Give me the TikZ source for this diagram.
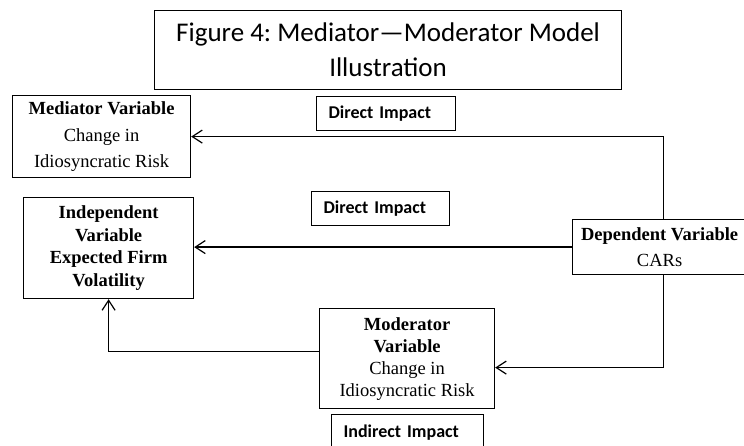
\documentclass[tikz,border=0pt]{standalone}
\usepackage{fontspec}
\setmainfont{Liberation Serif}
\newfontfamily\calfont{Carlito}
\usetikzlibrary{arrows.meta}
\frenchspacing
\begin{document}
\begin{tikzpicture}[x=1pt,y=-1pt,
 box/.style={draw, line width=1.2pt, inner sep=0pt, anchor=north west, align=center, font=\fontsize{18.5}{26.5}\selectfont},
 lab/.style={draw, line width=1.2pt, inner xsep=12pt, inner ysep=0pt, anchor=north west, align=left, font=\calfont\bfseries\fontsize{18}{22}\selectfont},
 arr/.style={line width=1.2pt, -{Straight Barb[length=10pt,width=13pt,line width=1.2pt]}}]
\useasboundingbox (0,0) rectangle (744,446);
\clip (0,0) rectangle (744,446);
\fill[white] (0,0) rectangle (744,446);
\node[box, minimum width=467pt, minimum height=79pt, font=\calfont\frenchspacing\fontsize{27}{35}\selectfont] (title) at (154,10) {Figure 4: Mediator—Moderator Model\\Illustration};
\node[box, minimum width=178pt, minimum height=82pt] (med) at (12,95) {\textbf{Mediator Variable}\\Change in\\Idiosyncratic Risk};
\node[box, minimum width=170pt, minimum height=101pt, font=\bfseries\fontsize{18.5}{22.5}\selectfont] (ind) at (23,197) {Independent\\Variable\\Expected Firm\\Volatility};
\node[box, minimum width=174pt, minimum height=55pt] (dep) at (572,219) {\textbf{Dependent Variable}\\CARs};
\node[box, minimum width=175pt, minimum height=100pt, font=\fontsize{18.5}{22}\selectfont] (mod) at (319,308) {\textbf{Moderator}\\\textbf{Variable}\\Change in\\Idiosyncratic Risk};
\node[lab, text width=115pt, minimum height=34pt] (d1) at (316,96) {Direct Impact};
\node[lab, text width=114pt, minimum height=34pt] (d2) at (311,191) {Direct Impact};
\node[lab, text width=128pt, minimum height=36pt] (ii) at (331,414) {Indirect Impact};
\draw[arr] ([xshift=4pt]dep.north) |- (med.east);
\draw[arr] (dep.west) -- (dep.west -| ind.east);
\draw[arr] ([xshift=4pt]dep.south) |- ([yshift=-9pt]mod.east);
\draw[arr] ([yshift=7pt]mod.west) -| (ind.south);
\end{tikzpicture}
\end{document}
